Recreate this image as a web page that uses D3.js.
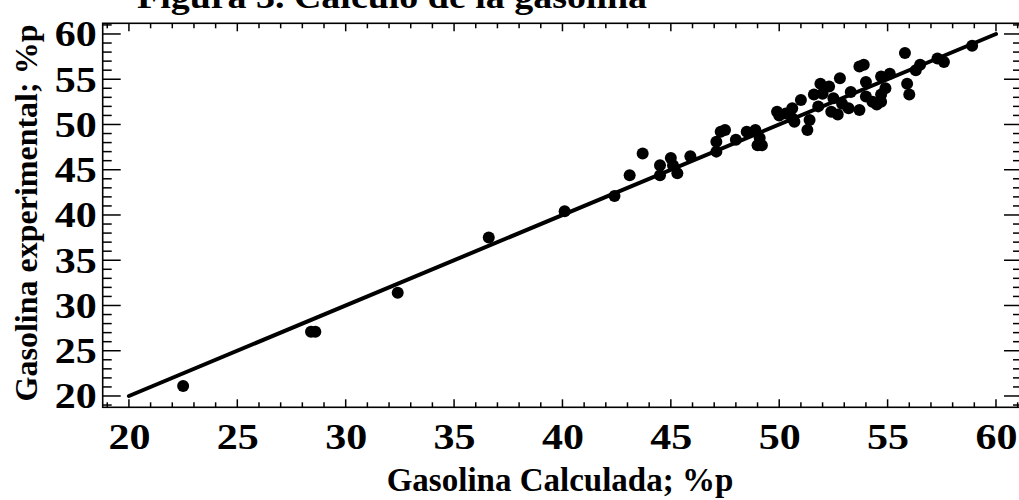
<!DOCTYPE html>
<html>
<head>
<meta charset="utf-8">
<script src="https://cdn.jsdelivr.net/npm/d3@7"></script>
<style>
  html, body { margin: 0; padding: 0; background: #fff; }
  svg { display: block; }
  text { font-family: "Liberation Serif", "Times New Roman", serif; font-weight: bold; fill: #000; }
</style>
</head>
<body>
<svg id="chart" width="1019" height="500"></svg>
<script>
// ---- data ----
const titleText = "Figura 3. Cálculo de la gasolina";
const xTitle = "Gasolina Calculada; %p";
const yTitle = "Gasolina experimental; %p";
const xTickValues = [20, 25, 30, 35, 40, 45, 50, 55, 60];
const yTickValues = [20, 25, 30, 35, 40, 45, 50, 55, 60];
const xCalc = [22.5,28.4,28.6,32.4,36.6,40.1,42.4,43.1,43.7,44.5,44.5,45.0,45.1,45.3,45.9,47.1,47.1,47.3,47.5,48.0,48.5,48.9,49.0,49.2,49.1,49.9,50.0,50.3,50.6,50.6,50.7,51.0,51.3,51.4,51.6,51.8,51.9,52.0,52.3,52.4,52.5,52.7,52.8,52.9,53.2,53.3,53.7,53.9,53.7,54.0,54.0,54.3,54.5,54.7,54.7,54.7,54.9,55.1,55.8,55.9,56.0,56.3,56.5,57.3,57.6,58.9];
const yExp  = [21.1,27.1,27.1,31.4,37.5,40.4,42.1,44.4,46.8,45.5,44.4,46.3,45.5,44.6,46.5,48.1,47.0,49.2,49.4,48.3,49.2,49.4,47.7,47.7,48.5,51.4,51.0,51.2,51.8,50.7,50.3,52.7,49.4,50.5,53.3,52.0,54.5,53.4,54.2,51.4,52.9,51.1,55.1,52.3,51.8,53.6,56.4,56.6,51.6,54.7,53.1,52.5,52.2,55.3,53.3,52.5,54.0,55.6,57.9,54.5,53.3,56.0,56.6,57.3,56.9,58.7];
const fitLine = [[20, 20], [60, 60]];

// ---- layout ----
const svg = d3.select("#chart");
const pL = 102.7, pR = 1022, pT = 23.3, pB = 407.3;
const x = d3.scaleLinear().domain([18.79, 61.2]).range([pL, pR]);
const y = d3.scaleLinear().domain([18.75, 61.18]).range([pB, pT]);
const FS = 33;
const TFS = 35;
const SX = 1.2;

// frame
svg.append("rect").attr("x", pL).attr("y", pT)
  .attr("width", pR - pL).attr("height", pB - pT)
  .attr("fill", "none").attr("stroke", "#000").attr("stroke-width", 1.6);

// minor + major ticks
const xMinor = d3.range(19, 62, 1);
const yMinor = d3.range(19, 62, 1);
const tickG = svg.append("g").attr("stroke", "#000").attr("stroke-width", 1.5);
xMinor.forEach(v => {
  const major = v % 5 === 0;
  const px = x(v);
  tickG.append("line").attr("x1", px).attr("x2", px).attr("y1", pB).attr("y2", pB - (major ? 8 : 5));
  tickG.append("line").attr("x1", px).attr("x2", px).attr("y1", pT).attr("y2", pT + (major ? 8 : 5));
});
yMinor.forEach(v => {
  const major = v % 5 === 0;
  const py = y(v);
  tickG.append("line").attr("y1", py).attr("y2", py).attr("x1", pL).attr("x2", pL + (major ? 18 : 9));
  tickG.append("line").attr("y1", py).attr("y2", py).attr("x1", pR).attr("x2", pR - (major ? 18 : 9));
});

// axes labels via d3 axes (tick lines hidden)
const xAxis = d3.axisBottom(x).tickValues(xTickValues).tickSize(0).tickPadding(0);
const gx = svg.append("g").attr("transform", `translate(0,${pB})`).call(xAxis);
gx.select(".domain").remove();
gx.selectAll("text").attr("font-size", TFS).attr("dy", null).attr("y", 42)
  .attr("transform", `scale(${SX},1)`)
  .style("font-family", '"Liberation Serif", serif').style("font-weight", "bold");

const yAxis = d3.axisLeft(y).tickValues(yTickValues).tickSize(0).tickPadding(0);
const gy = svg.append("g").attr("transform", `translate(${pL - 6},0)`).call(yAxis);
gy.select(".domain").remove();
gy.selectAll("text").attr("font-size", TFS).attr("dy", "0.34em").attr("x", 0)
  .attr("transform", `scale(${SX},1)`)
  .style("font-family", '"Liberation Serif", serif').style("font-weight", "bold");

// fit line
const line = d3.line().x(d => x(d[0])).y(d => y(d[1]));
svg.append("path").datum(fitLine).attr("d", line)
  .attr("fill", "none").attr("stroke", "#000").attr("stroke-width", 4).attr("stroke-linecap", "round");

// points
svg.append("g").selectAll("circle").data(xCalc.map((v, i) => [v, yExp[i]])).join("circle")
  .attr("cx", d => x(d[0])).attr("cy", d => y(d[1])).attr("r", 6).attr("fill", "#000");

// titles
svg.append("text").attr("x", 560).attr("y", 491).attr("text-anchor", "middle")
  .attr("font-size", FS).text(xTitle);
svg.append("text").attr("transform", "translate(37,213) rotate(-90)").attr("text-anchor", "middle")
  .attr("font-size", FS - 1).text(yTitle);
svg.append("text").attr("transform", "translate(392,8) scale(1.15,1)").attr("text-anchor", "middle")
  .attr("font-size", FS).text(titleText);
</script>
</body>
</html>
